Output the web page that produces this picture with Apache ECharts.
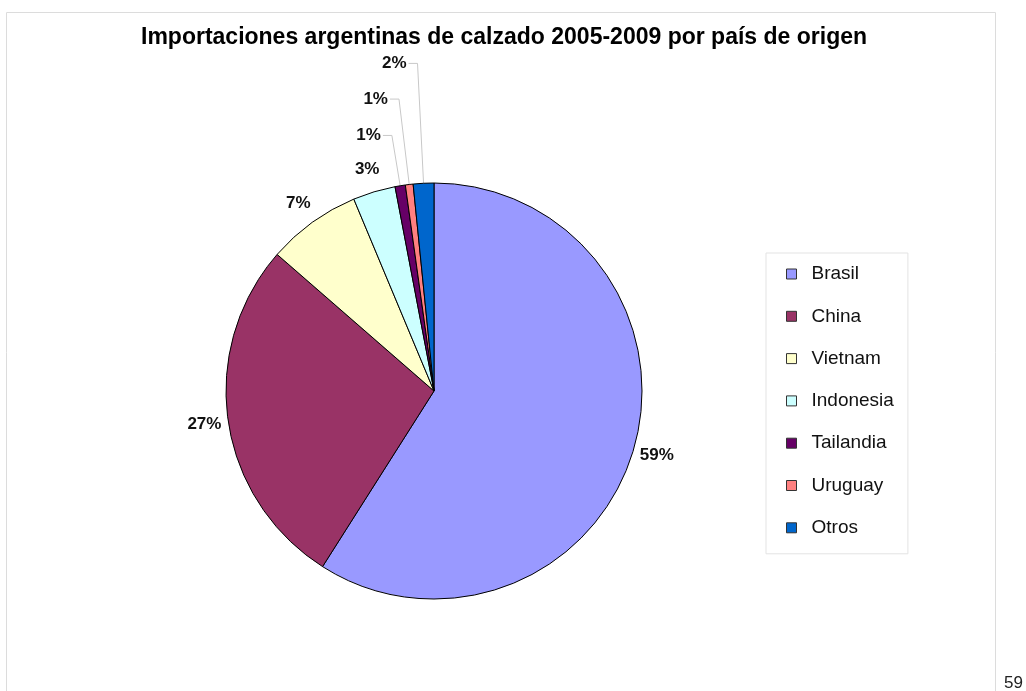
<!DOCTYPE html>
<html>
<head>
<meta charset="utf-8">
<title>Importaciones argentinas de calzado</title>
<script src="https://cdn.jsdelivr.net/npm/echarts@6/dist/echarts.min.js"></script>
<style>
  html, body { margin: 0; padding: 0; background: #fff; }
  #chart { width: 1026px; height: 691px; }
</style>
</head>
<body>
<div id="chart"></div>
<script>
// países de origen (sentido horario desde arriba) y su participación en %
const paises = ['Brasil', 'China', 'Vietnam', 'Indonesia', 'Tailandia', 'Uruguay', 'Otros']
const participacion = [59.0, 27.4, 7.3, 3.3, 0.8, 0.6, 1.6]
const colores = ['#9999ff', '#993366', '#ffffcc', '#ccffff', '#660066', '#ff8080', '#0066cc']
// largo de la guía de la etiqueta para las porciones chicas
const largoGuia = [24, 24, 24, 24, 51, 86, 120]

const fuente = 'Liberation Sans, Arial, sans-serif'

const chart = echarts.init(document.getElementById('chart'))

const datos = paises.map((p, i) => {
  const chica = i >= 4
  return {
    name: p,
    value: participacion[i],
    labelLine: {
      show: chica,
      length: largoGuia[i],
      length2: chica ? 9 : 0
    },
    label: {
      distanceToLabelLine: chica ? 2 : 0
    }
  }
})

chart.setOption({
  animation: false,
  color: colores,
  title: {
    text: 'Importaciones argentinas de calzado 2005-2009 por país de origen',
    left: 141,
    top: 26,
    padding: 0,
    textStyle: {
      fontFamily: fuente,
      fontSize: 23,
      fontWeight: 'bold',
      color: '#000'
    }
  },
  legend: {
    orient: 'vertical',
    left: 766,
    top: 253,
    padding: [11, 14, 16, 20],
    borderColor: '#e3e3e3',
    borderWidth: 1,
    itemWidth: 10,
    itemHeight: 10,
    itemGap: 22.3,
    icon: 'rect',
    itemStyle: { borderColor: '#333', borderWidth: 1 },
    formatter: name => '{t|' + name + '}',
    textStyle: {
      fontFamily: fuente,
      fontSize: 19,
      lineHeight: 20,
      color: '#111',
      rich: {
        t: {
          fontFamily: fuente,
          fontSize: 19,
          lineHeight: 20,
          color: '#111',
          padding: [0, 0, 0, 10]
        }
      }
    },
    data: paises
  },
  graphic: [
    {
      type: 'rect',
      left: 4,
      top: 10,
      shape: { width: 989, height: 700 },
      style: { fill: 'none', stroke: '#dcdcdc', lineWidth: 1 },
      silent: true
    },
    {
      type: 'text',
      left: 1004,
      top: 675,
      style: { text: '59', fontFamily: fuente, fontSize: 17, fill: '#222' }
    }
  ],
  series: [
    {
      type: 'pie',
      center: [434, 391],
      radius: 208,
      startAngle: 90,
      clockwise: true,
      avoidLabelOverlap: false,
      itemStyle: { borderColor: '#000', borderWidth: 1 },
      emphasis: { disabled: true },
      label: {
        show: true,
        position: 'outside',
        fontFamily: fuente,
        fontSize: 17,
        fontWeight: 'bold',
        color: '#111',
        formatter: p => Math.round(p.value) + '%'
      },
      labelLine: {
        lineStyle: { color: '#c8c8c8', width: 1 }
      },
      labelLayout: function (params) {
        if (params.dataIndex < 4) {
          return { align: 'center', verticalAlign: 'middle' }
        }
        return {}
      },
      data: datos
    }
  ]
})
</script>
</body>
</html>
